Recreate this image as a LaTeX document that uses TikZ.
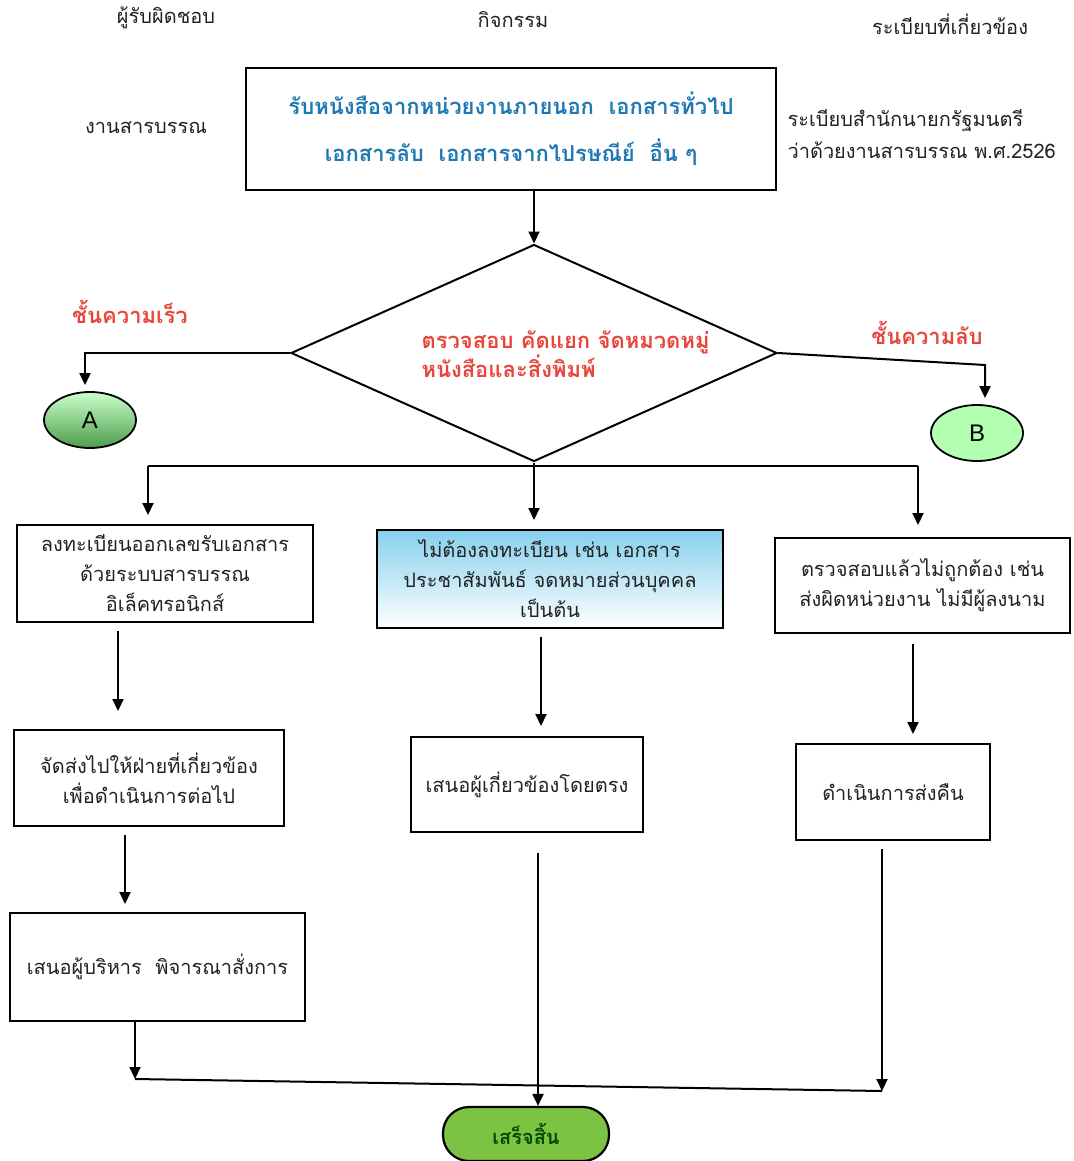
\documentclass[tikz,border=0pt]{standalone}
\usepackage{fontspec}
\newfontfamily\thai[Script=Thai]{Loma}
\newfontfamily\lat{Liberation Sans}
\usetikzlibrary{shapes.geometric,arrows.meta,calc}
\definecolor{topblue}{HTML}{1E78B4}
\definecolor{redtxt}{HTML}{E8463C}
\definecolor{txtgray}{HTML}{222222}
\definecolor{endgreen}{HTML}{7CC243}
\definecolor{skyb}{HTML}{86D0EE}
\begin{document}
\begin{tikzpicture}[x=1pt,y=1pt,
  every node/.style={font=\thai\fontsize{20}{30}\selectfont, text=txtgray},
  hdr/.style={font=\thai\fontsize{20}{22}\selectfont},
  boxn/.style={draw=black, line width=2pt, align=center, inner sep=0pt, fill=white},
  redl/.style={text=redtxt, font=\thai\bfseries\fontsize{22}{28}\selectfont},
  arr/.style={line width=2pt, -{Triangle[width=11pt,length=12pt]}},
  ln/.style={line width=2pt}]
\useasboundingbox (0,0) rectangle (1073,-1161);
% headers
\node[hdr] (h1) at (166,-18) {ผู้รับผิดชอบ};
\node[hdr] (h2) at (513,-20) {กิจกรรม};
\node[hdr] (h3) at (950,-24) {ระเบียบที่เกี่ยวข้อง};
\node[hdr] (resp) at (146,-128) {งานสารบรรณ};
\node[hdr, anchor=west, align=left, font=\thai\fontsize{20}{32}\selectfont] (reg) at (784,-134) {ระเบียบสำนักนายกรัฐมนตรี\\ว่าด้วยงานสารบรรณ พ.ศ.2526};
% top box
\node[boxn, minimum width=530, minimum height=122, text=topblue, font=\thai\bfseries\fontsize{22}{47}\selectfont] (top) at (511,-129) {รับหนังสือจากหน่วยงานภายนอก\ \ เอกสารทั่วไป\\เอกสารลับ\ \ เอกสารจากไปรษณีย์\ \ อื่น ๆ};
% diamond
\node[diamond, draw=black, line width=2pt, minimum width=486, minimum height=217, inner sep=0pt] (dia) at (534,-353) {};
\node[redl, align=left, anchor=west] (diat) at (418,-354) {ตรวจสอบ คัดแยก จัดหมวดหมู่\\หนังสือและสิ่งพิมพ์};
\draw[arr] (dia.north |- top.south) -- (dia.north);
% A and B
\node[ellipse, draw=black, line width=1.8pt, minimum width=92, minimum height=56, top color=green!20!white, bottom color=green!45!black!70!white, font=\lat\fontsize{24}{26}\selectfont, text=black] (A) at (90,-420) {A};
\node[ellipse, draw=black, line width=1.8pt, minimum width=92, minimum height=56, fill=green!30!white, font=\lat\fontsize{24}{26}\selectfont, text=black] (B) at (977,-433) {B};
\node[redl] (fast) at (130,-312) {ชั้นความเร็ว};
\node[redl] (secret) at (927,-333) {ชั้นความลับ};
\draw[arr] (dia.west) -| ($(A.north)+(-5,6)$);
\draw[arr] (dia.east) -- (985,-365) -- ($(B.north)+(8,6)$);
% boxes
\node[boxn, minimum width=296, minimum height=97] (b1) at (165,-573.5) {ลงทะเบียนออกเลขรับเอกสาร\\ด้วยระบบสารบรรณ\\อิเล็คทรอนิกส์};
\node[boxn, minimum width=346, minimum height=98, top color=skyb, bottom color=white] (b2) at (550,-579) {ไม่ต้องลงทะเบียน เช่น เอกสาร\\ประชาสัมพันธ์ จดหมายส่วนบุคคล\\เป็นต้น};
\node[boxn, minimum width=295, minimum height=95] (b3) at (922.5,-585.5) {ตรวจสอบแล้วไม่ถูกต้อง เช่น\\ส่งผิดหน่วยงาน ไม่มีผู้ลงนาม};
\node[boxn, minimum width=270, minimum height=96] (b4) at (149,-778) {จัดส่งไปให้ฝ่ายที่เกี่ยวข้อง\\เพื่อดำเนินการต่อไป};
\node[boxn, minimum width=232, minimum height=95] (b5) at (527,-784.5) {เสนอผู้เกี่ยวข้องโดยตรง};
\node[boxn, minimum width=194, minimum height=96] (b6) at (893,-792) {ดำเนินการส่งคืน};
\node[boxn, minimum width=295, minimum height=108] (b7) at (157.5,-967) {เสนอผู้บริหาร\ \ พิจารณาสั่งการ};
% end
\node[draw=black, line width=2.2pt, rounded corners=26pt, minimum width=166, minimum height=54, fill=endgreen, text=green!30!black, font=\thai\bfseries\fontsize{20}{22}\selectfont] (end) at (526,-1134) {เสร็จสิ้น};
% split below diamond
\coordinate (j) at (534,-466);
\coordinate (j1) at (148,-466);
\coordinate (j3) at (918,-466);
\draw[ln] (dia.south) -- (j);
\draw[ln] (j1) -- (j3);
\draw[arr] (j1) -- ($(j1 |- b1.north)+(0,9)$);
\draw[arr] (j) -- ($(j |- b2.north)+(0,9)$);
\draw[arr] (j3) -- ($(j3 |- b3.north)+(0,12)$);
% vertical arrows
\draw[arr] ($(b1.south -| 118,0)+(0,-8)$) -- ($(b4.north -| 118,0)+(0,18)$);
\draw[arr] ($(b2.south -| 541,0)+(0,-8)$) -- ($(b5.north -| 541,0)+(0,10)$);
\draw[arr] ($(b3.south -| 913,0)+(0,-10)$) -- ($(b6.north -| 913,0)+(0,9)$);
\draw[arr] ($(b4.south -| 125,0)+(0,-8)$) -- ($(b7.north -| 125,0)+(0,8)$);
% merge
\coordinate (m1) at (135,-1079);
\coordinate (m3) at (882,-1091);
\draw[ln] (m1) -- (m3);
\draw[arr] (b7.south -| m1) -- (m1);
\draw[arr] (b6.south -| m3) ++(0,-8) -- (m3);
\draw[arr] ($(b5.south -| 538,0)+(0,-20)$) -- (end.north -| 538,0);
\end{tikzpicture}
\end{document}
